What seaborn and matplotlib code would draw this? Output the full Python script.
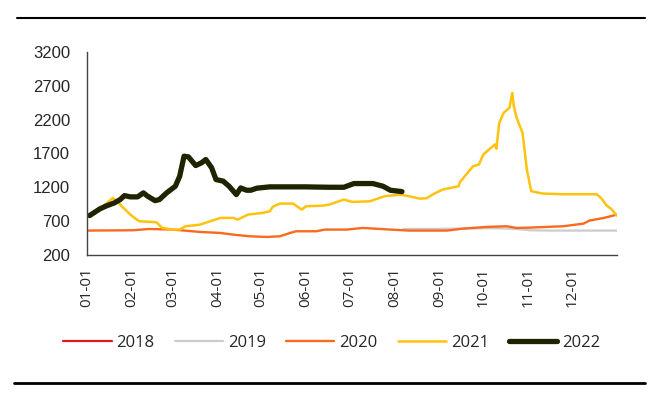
import pandas as pd
import numpy as np
import seaborn as sns
import matplotlib.pyplot as plt
from matplotlib.lines import Line2D

# values, x = day of year, y = price
days_2018 = []
vals_2018 = []

days_2019 = [218, 240, 260, 280, 296, 305, 320, 340, 365]
vals_2019 = [585, 585, 590, 595, 585, 565, 560, 560, 560]

days_2020 = [0, 32, 43, 59, 78, 92, 101, 112, 124, 133, 140, 144, 158, 164,
             179, 190, 209, 222, 248, 259, 275, 289, 296, 305, 328, 342, 346, 356, 365]
vals_2020 = [560, 565, 584, 575, 540, 525, 500, 476, 466, 476, 525, 550, 550, 575,
             575, 599, 575, 560, 560, 589, 614, 624, 599, 604, 624, 663, 707, 747, 796]

days_2021 = [0, 3, 12, 18, 23, 30, 36, 48, 52, 59, 64, 68, 78, 85, 92, 101, 104, 111,
             121, 126, 128, 133, 142, 148, 151, 163, 167, 177, 183, 195, 205, 216, 222,
             229, 234, 238, 245, 256, 257, 266, 270, 273, 281, 282, 284, 287, 291, 293,
             294, 296, 300, 303, 306, 314, 328, 351, 354, 358, 361, 365]
vals_2021 = [760, 790, 930, 1043, 944, 796, 698, 683, 599, 575, 575, 624, 648, 698, 747,
             747, 722, 796, 821, 845, 910, 959, 959, 870, 919, 929, 944, 1018, 983, 993,
             1067, 1092, 1067, 1033, 1037, 1092, 1166, 1215, 1279, 1511, 1536, 1684, 1832,
             1768, 2152, 2299, 2373, 2594, 2397, 2225, 2004, 1462, 1141, 1107, 1097, 1097,
             1043, 929, 880, 781]

days_2022 = [2, 9, 13, 19, 23, 26, 30, 35, 39, 42, 47, 50, 55, 61, 64, 67, 70, 75, 79,
             82, 86, 89, 94, 98, 103, 106, 110, 113, 117, 126, 150, 167, 177, 184, 197,
             204, 209, 217]
vals_2022 = [782, 880, 920, 969, 1018, 1077, 1058, 1058, 1117, 1067, 1003, 1018, 1117,
             1215, 1363, 1659, 1649, 1521, 1561, 1610, 1487, 1314, 1290, 1215, 1092, 1190,
             1156, 1156, 1186, 1206, 1206, 1200, 1200, 1255, 1255, 1215, 1156, 1136]

years = ['2018', '2019', '2020', '2021', '2022']
colors = ['#e3161f', '#cccccc', '#fa6a1c', '#ffc20e', '#1f2300']
widths = [1.6, 1.6, 1.7, 1.8, 3.8]
series = [(days_2018, vals_2018), (days_2019, vals_2019), (days_2020, vals_2020),
          (days_2021, vals_2021), (days_2022, vals_2022)]

sns.set_style('white')
plt.rcParams['font.family'] = ['Liberation Sans', 'DejaVu Sans']

fig = plt.figure(figsize=(6.57, 3.99), dpi=100)
ax = fig.add_axes([0.132, 0.361, 0.807, 0.509])

base = pd.Timestamp('2022-01-01')
for year, col, lw, (d, v) in zip(years, colors, widths, series):
    df = pd.DataFrame({'date': base + pd.to_timedelta(d, unit='D'), 'value': v})
    if len(df) == 0:
        ax.plot([], [], color=col, lw=lw, label=year)
        continue
    sns.lineplot(data=df, x='date', y='value', color=col, linewidth=lw,
                 label=year, ax=ax)

# axes
ax.set_ylim(200, 3200)
ax.set_yticks(np.arange(200, 3201, 500))
ticks = pd.date_range('2022-01-01', '2023-01-01', freq='MS')
ax.set_xlim(ticks[0], ticks[-1])
ax.set_xticks(ticks)
ax.set_xticklabels([t.strftime('%m-%d') for t in ticks[:-1]] + [''],
                   rotation=90, fontfamily='Open Sans', fontsize=11)
ax.set_xlabel('')
ax.set_ylabel('')
ax.tick_params(axis='y', labelsize=12, direction='in', length=4, pad=12, color='#444444')
ax.tick_params(axis='x', direction='in', length=4, pad=9, color='#444444')
for s in ['top', 'right']:
    ax.spines[s].set_visible(False)
for s in ['left', 'bottom']:
    ax.spines[s].set_color('#444444')
    ax.spines[s].set_linewidth(1)

ax.get_legend().remove()
handles, labels = ax.get_legend_handles_labels()
fig.legend(handles, labels, loc='center', bbox_to_anchor=(0.505, 0.14), ncol=5,
           frameon=False, prop={'family': 'Open Sans', 'size': 12},
           handlelength=2.9, handletextpad=0.3, columnspacing=1.2)

# frame lines top and bottom
fig.add_artist(Line2D([17 / 657, 645 / 657], [1 - 18 / 399, 1 - 18 / 399], color='black', lw=1.5))
fig.add_artist(Line2D([14 / 657, 645 / 657], [1 - 383 / 399, 1 - 383 / 399], color='black', lw=2))

fig.savefig('out.png', dpi=100)
